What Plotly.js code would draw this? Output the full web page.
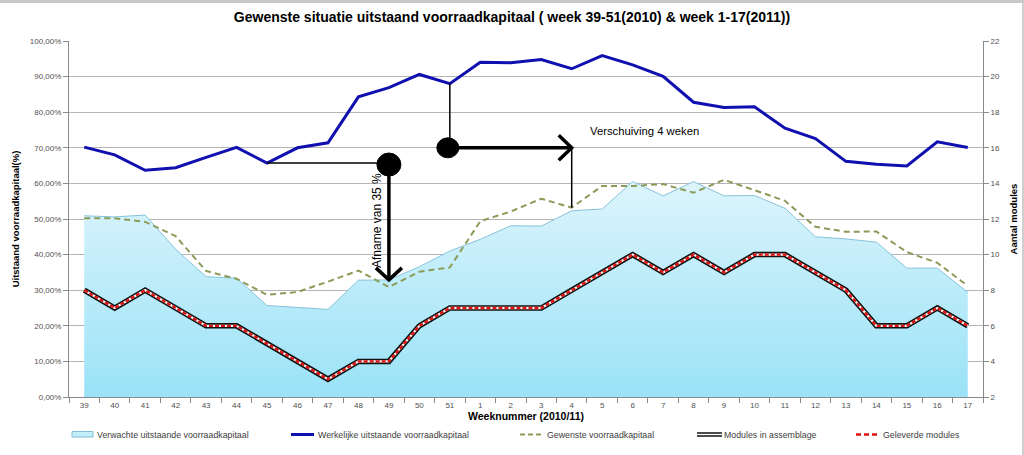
<!DOCTYPE html>
<html>
<head>
<meta charset="utf-8">
<script src="https://cdn.plot.ly/plotly-3.0.1.min.js"></script>
<style>
  html, body { margin: 0; padding: 0; background: #ffffff; }
  #wrap { position: relative; width: 1024px; height: 455px; overflow: hidden; }
  #chart { position: absolute; left: 0; top: 0; width: 1024px; height: 455px; }
  #frame { position: absolute; left: 0; top: 0; width: 1022px; height: 452px;
           border-top: 3px solid #c8c8c8; border-right: 2px solid #cfcfcf; pointer-events: none; }
</style>
</head>
<body>
<div id="wrap"><div id="chart"></div><div id="frame"></div></div>
<script>
// ---- data ----
const weeks = ['39','40','41','42','43','44','45','46','47','48','49','50','51',
               '1','2','3','4','5','6','7','8','9','10','11','12','13','14','15','16','17'];
// Verwachte uitstaande voorraadkapitaal (%)
const verwachte = [50.9,50.6,51.1,41.5,33.8,33.4,25.7,25.1,24.6,32.8,32.9,36.6,41.0,
                   44.3,48.1,48.0,52.3,52.8,60.5,56.5,60.5,56.5,56.6,53.0,45.0,44.4,43.5,36.2,36.2,29.4];
// Werkelijke uitstaande voorraadkapitaal (%)
const werkelijke = [70.2,68.0,63.7,64.4,67.3,70.1,65.7,70.0,71.4,84.3,86.9,90.6,88.0,
                    94.0,93.9,94.8,92.2,95.9,93.3,90.1,82.8,81.3,81.5,75.5,72.6,66.2,65.4,64.9,71.7,70.1];
// Gewenste voorraadkapitaal (%)
const gewenste = [50.2,50.2,49.2,45.2,35.4,33.2,28.7,29.5,32.4,35.5,30.9,35.2,36.4,
                  49.4,52.1,55.7,53.2,59.3,59.3,59.8,57.4,61.0,58.1,55.1,47.8,46.4,46.5,40.7,37.7,31.2];
// Modules in assemblage (aantal)
const modulesAssemblage = [8,7,8,7,6,6,5,4,3,4,4,6,7,7,7,7,8,9,10,9,10,9,10,10,9,8,6,6,7,6];
// Geleverde modules (aantal)
const geleverdeModules  = [8,7,8,7,6,6,5,4,3,4,4,6,7,7,7,7,8,9,10,9,10,9,10,10,9,8,6,6,7,6];

const titleText = 'Gewenste situatie uitstaand voorraadkapitaal ( week 39-51(2010) & week 1-17(2011))';
const legendNames = ['Verwachte uitstaande voorraadkapitaal','Werkelijke uitstaande voorraadkapitaal',
                     'Gewenste voorraadkapitaal','Modules in assemblage','Geleverde modules'];

// ---- styling ----
const xi = weeks.map((w, i) => i);
const FONT = 'Liberation Sans, Arial, sans-serif';
const NARROW = 'Liberation Sans Narrow, Arial Narrow, Liberation Sans, Arial, sans-serif';
const BLUE = '#1010b0';
const GREEN = '#8b9b58';

const traces = [
  { x: xi, y: verwachte, type: 'scatter', mode: 'lines', name: legendNames[0],
    line: { color: '#86c3dc', width: 1 }, fill: 'tozeroy',
    fillgradient: { type: 'vertical', start: 0, stop: 62,
                    colorscale: [[0, '#9ae2f7'], [1, '#def5fc']] },
    showlegend: false, hoverinfo: 'skip' },
  { x: xi, y: werkelijke, type: 'scatter', mode: 'lines', name: legendNames[1],
    line: { color: BLUE, width: 3 }, showlegend: false },
  { x: xi, y: gewenste, type: 'scatter', mode: 'lines', name: legendNames[2],
    line: { color: GREEN, width: 2, dash: '6px,4px' }, showlegend: false },
  { x: xi, y: modulesAssemblage, yaxis: 'y2', type: 'scatter', mode: 'lines', name: legendNames[3],
    line: { color: '#111111', width: 5.5 }, showlegend: false },
  { x: xi, y: modulesAssemblage, yaxis: 'y2', type: 'scatter', mode: 'lines', name: legendNames[3],
    line: { color: '#ffffff', width: 2.3 }, showlegend: false, hoverinfo: 'skip' },
  { x: xi, y: geleverdeModules, yaxis: 'y2', type: 'scatter', mode: 'lines', name: legendNames[4],
    line: { color: '#e01010', width: 2.3, dash: '4px,2px' }, showlegend: false }
];

// pixel -> paper helpers for the hand-made legend (plot area 69..983 x 41..397)
const PL = 69, PR = 983, PT = 41, PB = 397;
const px = v => (v - PL) / (PR - PL);
const py = v => (PB - v) / (PB - PT);

const shapes = [
  // thin connector from week 45 to the circle
  { type: 'line', xref: 'x', yref: 'y', x0: 6, x1: 10, y0: werkelijke[6], y1: werkelijke[6],
    line: { color: '#000', width: 1.5 }, layer: 'above' },
  // thick downward arrow at week 49
  { type: 'line', xref: 'x', yref: 'y', x0: 10, x1: 10, y0: werkelijke[6], y1: verwachte[10],
    line: { color: '#000', width: 3.5 }, layer: 'above' },
  { type: 'path', xref: 'x', yref: 'y', xsizemode: 'pixel', ysizemode: 'pixel',
    xanchor: 10, yanchor: verwachte[10], path: 'M -13 12 L 0 0 L 13 12',
    line: { color: '#000', width: 3.5 }, layer: 'above' },
  { type: 'circle', xref: 'x', yref: 'y', xsizemode: 'pixel', ysizemode: 'pixel',
    xanchor: 10, yanchor: werkelijke[6] - 0.4, x0: -12, x1: 12, y0: -11.5, y1: 11.5,
    fillcolor: '#000', line: { color: '#000', width: 1 }, layer: 'above' },
  // thin vertical from week 51 down to the second circle
  { type: 'line', xref: 'x', yref: 'y', x0: 12, x1: 12, y0: werkelijke[12], y1: 70,
    line: { color: '#000', width: 1.5 }, layer: 'above' },
  // thick right arrow, 4 weeks
  { type: 'line', xref: 'x', yref: 'y', x0: 12, x1: 16, y0: 70, y1: 70,
    line: { color: '#000', width: 3.5 }, layer: 'above' },
  { type: 'path', xref: 'x', yref: 'y', xsizemode: 'pixel', ysizemode: 'pixel',
    xanchor: 16, yanchor: 70, path: 'M -13 12.5 L 0 0 L -13 -12.5',
    line: { color: '#000', width: 3.5 }, layer: 'above' },
  { type: 'line', xref: 'x', yref: 'y', x0: 16, x1: 16, y0: 70, y1: gewenste[16],
    line: { color: '#000', width: 1.5 }, layer: 'above' },
  { type: 'circle', xref: 'x', yref: 'y', xsizemode: 'pixel', ysizemode: 'pixel',
    xanchor: 12, yanchor: 70, x0: -13, x1: 9, y0: -10, y1: 10,
    fillcolor: '#000', line: { color: '#000', width: 1 }, layer: 'above' },

  // ---- legend symbols ----
  { type: 'rect', xref: 'paper', yref: 'paper', x0: px(72), x1: px(93), y0: py(431.5), y1: py(437),
    fillcolor: '#c4eefa', line: { color: '#7fbfd9', width: 1 } },
  { type: 'line', xref: 'paper', yref: 'paper', x0: px(291), x1: px(314), y0: py(434.5), y1: py(434.5),
    line: { color: BLUE, width: 3 } },
  { type: 'line', xref: 'paper', yref: 'paper', x0: px(520), x1: px(542), y0: py(434.5), y1: py(434.5),
    line: { color: GREEN, width: 2, dash: '5px,3px' } },
  { type: 'line', xref: 'paper', yref: 'paper', x0: px(697), x1: px(722), y0: py(434.5), y1: py(434.5),
    line: { color: '#111', width: 4.5 } },
  { type: 'line', xref: 'paper', yref: 'paper', x0: px(697), x1: px(722), y0: py(434.5), y1: py(434.5),
    line: { color: '#fff', width: 1.5 } },
  { type: 'line', xref: 'paper', yref: 'paper', x0: px(856), x1: px(877), y0: py(434.5), y1: py(434.5),
    line: { color: '#e01010', width: 2.5, dash: '5px,3px' } }
];

const legendText = (txt, x0) => ({
  text: txt, xref: 'paper', yref: 'paper', x: px(x0), y: py(434.5), xanchor: 'left', yanchor: 'middle',
  showarrow: false, font: { family: FONT, size: 8.8, color: '#404040' }
});

const annotations = [
  { text: 'Afname van 35 %', xref: 'x', yref: 'y', x: 10, xshift: -12, y: 49.7, textangle: -90,
    showarrow: false, font: { family: FONT, size: 12, color: '#000' } },
  { text: 'Verschuiving 4 weken', xref: 'x', yref: 'y', x: 16, xshift: 16, y: 74.8,
    xanchor: 'left', yanchor: 'middle', showarrow: false, font: { family: FONT, size: 11.3, color: '#000' } },
  legendText(legendNames[0], 95),
  legendText(legendNames[1], 316),
  legendText(legendNames[2], 545),
  legendText(legendNames[3], 722),
  legendText(legendNames[4], 881)
];

const layout = {
  width: 1024, height: 455,
  margin: { l: 69, r: 41, t: 41, b: 58, pad: 0 },
  paper_bgcolor: '#ffffff', plot_bgcolor: '#ffffff',
  separators: ', ',
  showlegend: false,
  title: { text: '<b>' + titleText + '</b>', x: 0.5, xanchor: 'center', y: 0.962, yanchor: 'middle',
           font: { family: NARROW, size: 14, color: '#000' } },
  xaxis: {
    range: [-0.5, 29.5], tickmode: 'array', tickvals: xi, ticktext: weeks,
    ticks: '', showgrid: false, zeroline: false, showline: true, linecolor: '#8a8a8a', linewidth: 1,
    tickfont: { family: FONT, size: 8, color: '#505050' },
    minor: { tickmode: 'linear', tick0: -0.5, dtick: 1, ticks: 'outside', ticklen: 5, tickcolor: '#8a8a8a', showgrid: false },
    title: { text: '<b>Weeknummer (2010/11)</b>', standoff: 4, font: { family: FONT, size: 10.5, color: '#000' } },
    fixedrange: true
  },
  yaxis: {
    range: [0, 100], dtick: 10, tick0: 0, tickformat: '.2f', ticksuffix: '%',
    ticks: 'outside', ticklen: 5, tickcolor: '#8a8a8a',
    showgrid: true, gridcolor: '#b5b5b5', gridwidth: 1, zeroline: false,
    showline: true, linecolor: '#8a8a8a', linewidth: 1,
    tickfont: { family: FONT, size: 8, color: '#505050' },
    title: { text: '<b>Uitstaand voorraadkapitaal(%)</b>', standoff: 8, font: { family: FONT, size: 9.5, color: '#000' } },
    fixedrange: true
  },
  yaxis2: {
    overlaying: 'y', side: 'right', range: [2, 22], dtick: 2, tick0: 2,
    ticks: 'outside', ticklen: 5, tickcolor: '#8a8a8a',
    showgrid: false, zeroline: false, showline: true, linecolor: '#8a8a8a', linewidth: 1,
    tickfont: { family: FONT, size: 8, color: '#505050' },
    title: { text: '<b>Aantal modules</b>', standoff: 11, font: { family: FONT, size: 9.5, color: '#000' } },
    fixedrange: true
  },
  shapes: shapes,
  annotations: annotations
};

Plotly.newPlot('chart', traces, layout, { displayModeBar: false, staticPlot: true });
</script>
</body>
</html>
